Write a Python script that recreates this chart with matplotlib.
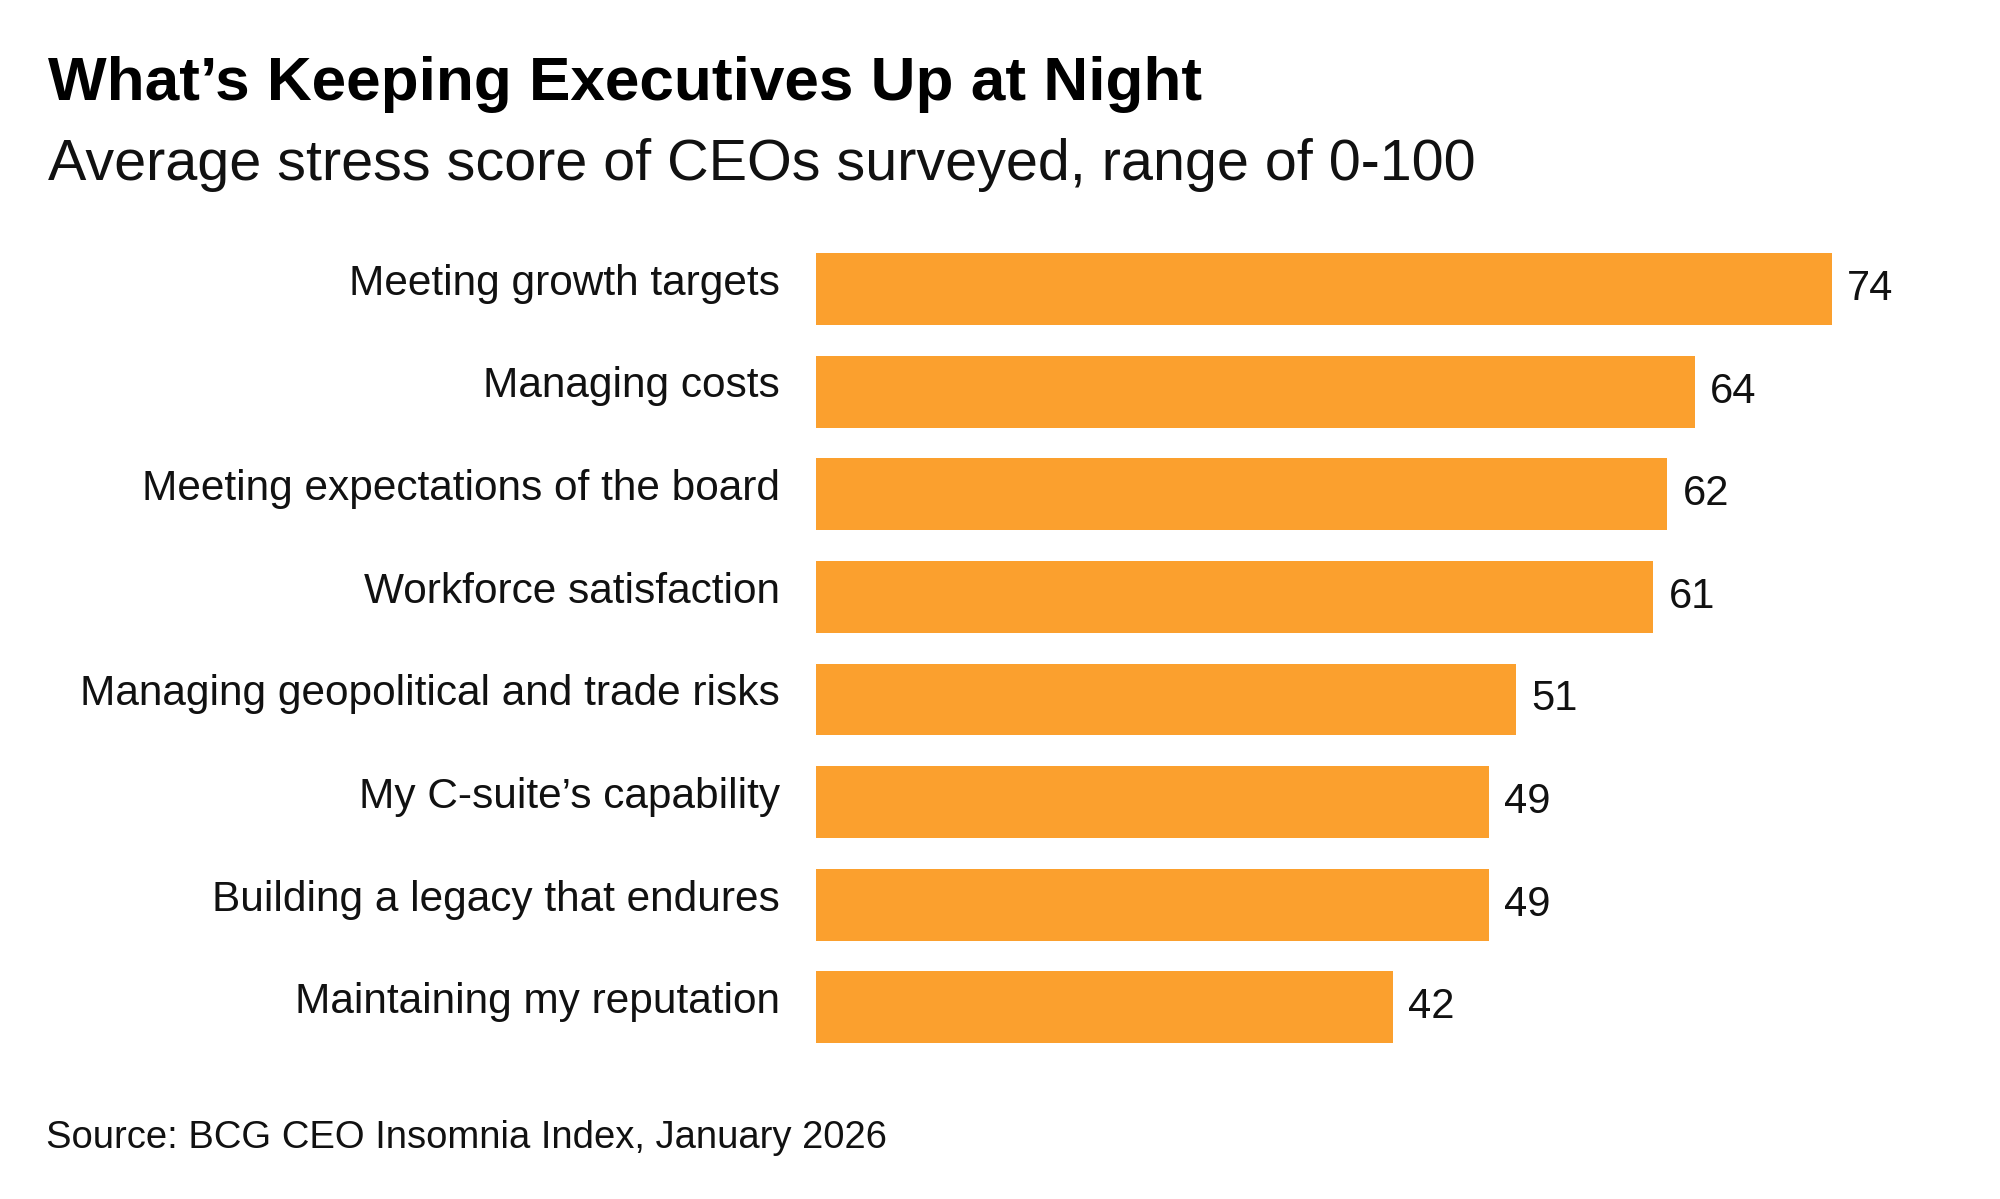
import matplotlib
matplotlib.use("Agg")
import matplotlib.pyplot as plt
from matplotlib.transforms import ScaledTranslation

# %% Data
categories = [
    "Meeting growth targets",
    "Managing costs",
    "Meeting expectations of the board",
    "Workforce satisfaction",
    "Managing geopolitical and trade risks",
    "My C-suite\u2019s capability",
    "Building a legacy that endures",
    "Maintaining my reputation",
]
scores = [74, 64, 62, 61, 51, 49, 49, 42]

title = "What\u2019s Keeping Executives Up at Night"
subtitle = "Average stress score of CEOs surveyed, range of 0-100"
source = "Source: BCG CEO Insomnia Index, January 2026"

# %% Plot
plt.rcParams['font.family'] = ['Liberation Sans', 'DejaVu Sans']
bar_color = '#FBA02E'

fig = plt.figure(figsize=(20, 11.99), dpi=100)
ax = fig.add_axes([0.408, 0.117, 0.5835, 0.6848])

ypos = list(range(len(categories)))
bars = ax.barh(ypos, scores, height=0.70, color=bar_color)
ax.set_xlim(0, 85)
ax.set_ylim(len(categories) - 0.5, -0.5)

ax.set_yticks(ypos)
ax.set_yticklabels(categories, fontsize=30.5, color='#111111')
ax.tick_params(axis='y', length=0, pad=26)
ax.set_xticks([])
for s in ax.spines.values():
    s.set_visible(False)

# labels sit a little above the bar centre in the original
shift = ScaledTranslation(0, 7 / 72, fig.dpi_scale_trans)
for lab in ax.get_yticklabels():
    lab.set_transform(lab.get_transform() + shift)

vals = ax.bar_label(bars, labels=[str(v) for v in scores], padding=11,
                    fontsize=30, color='#111111')
shift2 = ScaledTranslation(0, 3 / 72, fig.dpi_scale_trans)
for t in vals:
    t.set_transform(t.get_transform() + shift2)

fig.text(0.024, 1 - 100 / 1199, title, fontsize=44.7, fontweight='bold',
         va='baseline', ha='left', color='#000000')
fig.text(0.024, 1 - 180 / 1199, subtitle, fontsize=41.4,
         va='baseline', ha='left', color='#111111')
fig.text(0.023, 1 - 1148 / 1199, source, fontsize=27.5,
         va='baseline', ha='left', color='#111111')

fig.savefig('out.png', dpi=100, facecolor='white')
